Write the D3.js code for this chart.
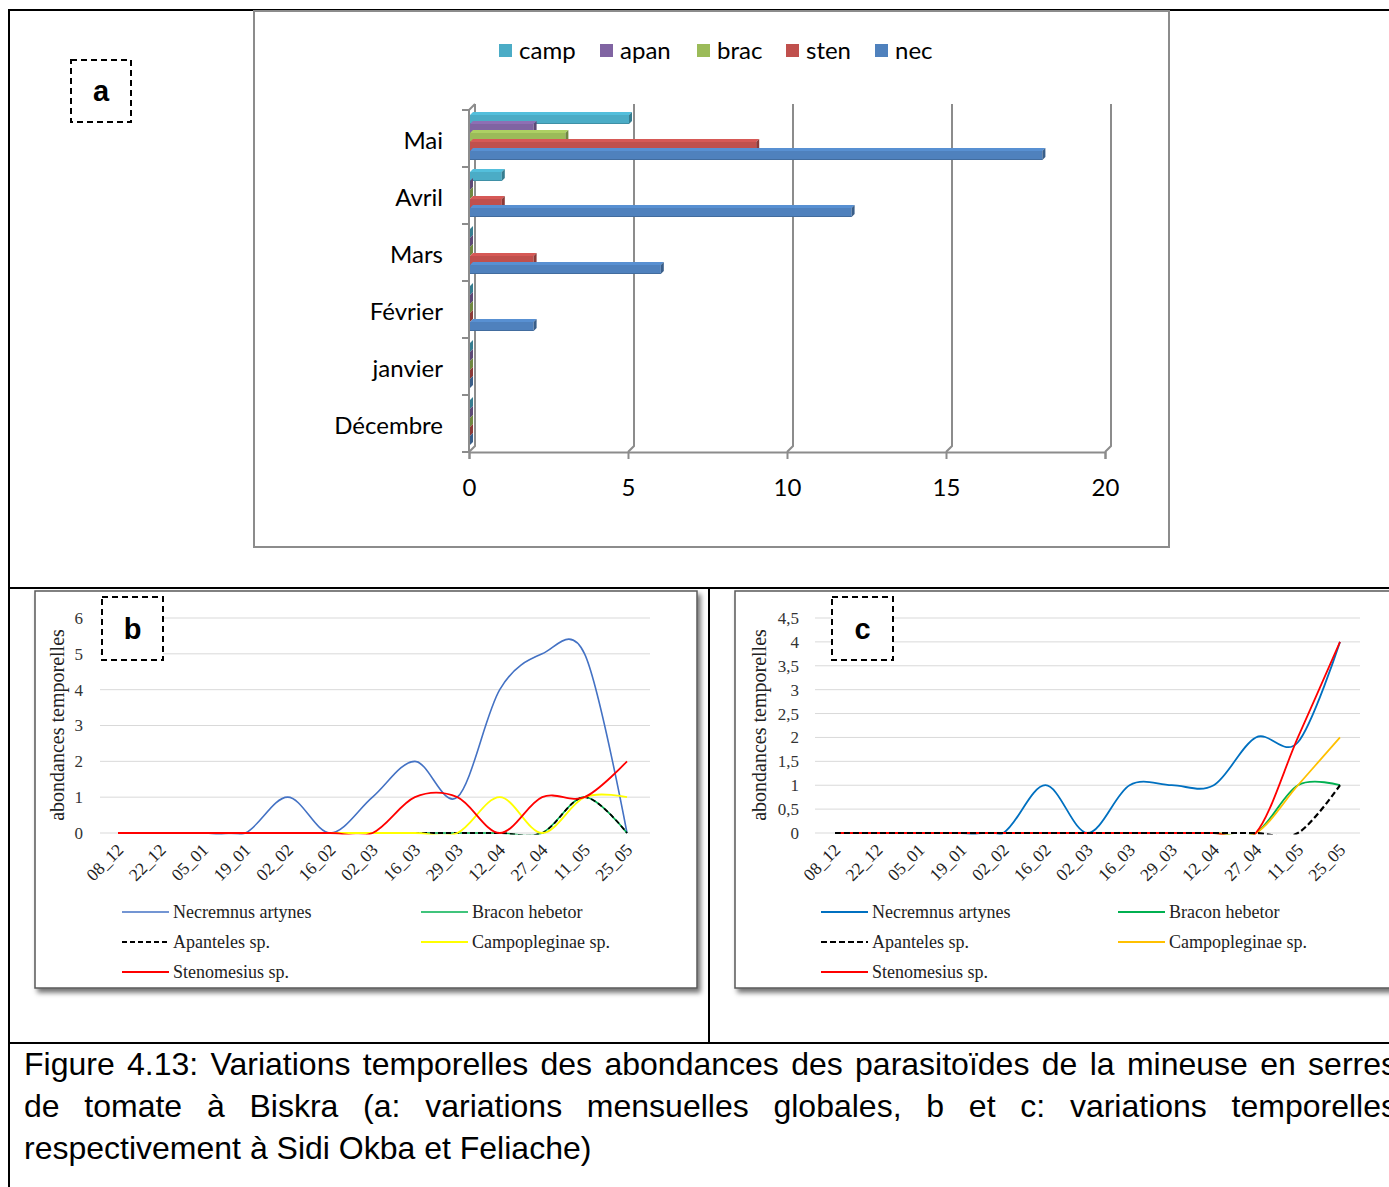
<!DOCTYPE html>
<html><head><meta charset="utf-8">
<script src="https://cdn.jsdelivr.net/npm/d3@7"></script>
<style>
html,body{margin:0;padding:0;background:#fff;overflow:hidden;}
svg{display:block;}
</style></head>
<body>
<script>
// ---------- Panel a data ----------
const months = ["Mai","Avril","Mars","Février","janvier","Décembre"];
const seriesA = ["camp","apan","brac","sten","nec"];
const colorsA = ["#4BACC6","#8064A2","#9BBB59","#C0504D","#4F81BD"];
const camp = [5,1,0,0,0,0];
const apan = [2,0,0,0,0,0];
const brac = [3,0,0,0,0,0];
const sten = [9,1,2,0,0,0];
const nec  = [18,12,6,2,0,0];
const xTicksA = [0,5,10,15,20];

// ---------- Panels b and c data ----------
const dates = ["08_12","22_12","05_01","19_01","02_02","16_02","02_03","16_03","29_03","12_04","27_04","11_05","25_05"];
const speciesNames = ["Necremnus artynes","Bracon hebetor","Apanteles sp.","Campopleginae sp.","Stenomesius sp."];
// b : Sidi Okba
const necB = [0,0,0,0,1,0,1,2,1,4,5,5,0];
const braB = [0,0,0,0,0,0,0,0,0,0,0,1,0];
const apaB = [0,0,0,0,0,0,0,0,0,0,0,1,0];
const camB = [0,0,0,0,0,0,0,0,0,1,0,1,1];
const steB = [0,0,0,0,0,0,0,1,1,0,1,1,2];
const yTicksB = [0,1,2,3,4,5,6];
// c : Feliache
const necC = [0,0,0,0,0,1,0,1,1,1,2,1.9,4];
const braC = [0,0,0,0,0,0,0,0,0,0,0,1,1];
const apaC = [0,0,0,0,0,0,0,0,0,0,0,0,1];
const camC = [0,0,0,0,0,0,0,0,0,0,0,1,2];
const steC = [0,0,0,0,0,0,0,0,0,0,0,2,4];
const yTicksC = [0,0.5,1,1.5,2,2.5,3,3.5,4,4.5];

const captionLines = [
  "Figure 4.13: Variations temporelles des abondances des parasitoïdes de la mineuse en serres",
  "de tomate à Biskra (a: variations mensuelles globales, b et c: variations temporelles",
  "respectivement à Sidi Okba et Feliache)"
];

const W = 1389, H = 1187;
const svg = d3.select("body").append("svg").attr("width", W).attr("height", H);
svg.append("rect").attr("width", W).attr("height", H).attr("fill", "#fff");

const defs = svg.append("defs");
const f = defs.append("filter").attr("id","shadow").attr("x","-5%").attr("y","-5%").attr("width","115%").attr("height","115%");
f.append("feDropShadow").attr("dx",3).attr("dy",4).attr("stdDeviation",2.5).attr("flood-color","#000").attr("flood-opacity",0.55);

// ---------- outer table ----------
const tbl = svg.append("g").attr("stroke","#000").attr("stroke-width",2);
tbl.append("line").attr("x1",9).attr("x2",W).attr("y1",10).attr("y2",10);
tbl.append("line").attr("x1",9).attr("x2",9).attr("y1",9).attr("y2",H);
tbl.append("line").attr("x1",9).attr("x2",W).attr("y1",588).attr("y2",588);
tbl.append("line").attr("x1",709).attr("x2",709).attr("y1",588).attr("y2",1043);
tbl.append("line").attr("x1",9).attr("x2",W).attr("y1",1043).attr("y2",1043);

function labelBox(x, y, w, h, txt){
  svg.append("rect").attr("x",x).attr("y",y).attr("width",w).attr("height",h)
    .attr("fill","#fff").attr("stroke","#000").attr("stroke-width",2).attr("stroke-dasharray","6,4");
  svg.append("text").attr("x",x+w/2).attr("y",y+h/2+10).attr("text-anchor","middle")
    .attr("font-family","Liberation Sans, Arial, sans-serif").attr("font-weight","bold")
    .attr("font-size",29).text(txt);
}

// ---------- Panel a ----------
labelBox(71, 60, 60, 62, "a");
svg.append("rect").attr("x",254).attr("y",11).attr("width",915).attr("height",536)
  .attr("fill","#fff").attr("stroke","#8c8c8c").attr("stroke-width",2);

const ga = svg.append("g");
const fontA = "Lato, 'Open Sans', sans-serif";
const xA = d3.scaleLinear().domain([0,20]).range([469,1105]);
const yA = d3.scaleBand().domain(months).range([110,452]);
const inner = d3.scaleBand().domain(seriesA).range([5,50]);
const depth = 6, bd = 3;
const valsA = {camp, apan, brac, sten, nec};

const wallTop = yA.range()[0] - depth;
xTicksA.forEach(t => {
  const xb = xA(t);
  ga.append("path")
    .attr("d", `M${xb},${452} L${xb+depth},${452-depth} L${xb+depth},${wallTop}`)
    .attr("fill","none").attr("stroke","#8c8c8c").attr("stroke-width",2);
});
ga.append("line").attr("x1",xA(0)).attr("x2",xA(0)).attr("y1",yA.range()[0]).attr("y2",452)
  .attr("stroke","#8c8c8c").attr("stroke-width",2);
ga.append("line").attr("x1",xA(0)).attr("x2",xA(0)+depth).attr("y1",yA.range()[0]).attr("y2",wallTop)
  .attr("stroke","#8c8c8c").attr("stroke-width",2);
const bandEdges = months.map(m => yA(m)).concat([452]);
bandEdges.forEach(yy => {
  ga.append("line").attr("x1",xA(0)-7).attr("x2",xA(0)).attr("y1",yy).attr("y2",yy)
    .attr("stroke","#8c8c8c").attr("stroke-width",2);
});
const axA = ga.append("g").attr("transform","translate(0,452)")
  .call(d3.axisBottom(xA).tickValues(xTicksA).tickSize(7).tickPadding(20).tickFormat(d3.format("d")));
axA.select(".domain").attr("stroke","#8c8c8c").attr("stroke-width",2);
axA.selectAll(".tick line").attr("stroke","#8c8c8c").attr("stroke-width",2);
axA.selectAll(".tick text").attr("font-family",fontA).attr("font-size",24).attr("fill","#000");

months.forEach((m, i) => {
  seriesA.forEach((s, j) => {
    const v = valsA[s][i];
    const y0 = yA(m) + inner(s);
    const h = inner.bandwidth();
    const x0 = xA(0) + 1, x1 = xA(v) + 1;
    const c = d3.color(colorsA[j]);
    ga.append("path").attr("d",`M${x0},${y0} L${x0+bd},${y0-bd} L${x1+bd},${y0-bd} L${x1},${y0} Z`)
      .attr("fill", c.brighter(0.3));
    if (v > 0) ga.append("rect").attr("x",x0).attr("y",y0).attr("width",x1-x0).attr("height",h)
      .attr("fill", colorsA[j]);
    ga.append("path").attr("d",`M${x1},${y0} L${x1+bd},${y0-bd} L${x1+bd},${y0+h-bd} L${x1},${y0+h} Z`)
      .attr("fill", c.darker(0.9));
    if (v > 0) ga.append("line").attr("x1",x0).attr("x2",x1).attr("y1",y0+h-0.5).attr("y2",y0+h-0.5)
      .attr("stroke", c.darker(0.5)).attr("stroke-width",1);
  });
});
months.forEach(m => {
  ga.append("text").attr("x",443).attr("y",yA(m)+yA.bandwidth()/2+10).attr("text-anchor","end")
    .attr("font-family",fontA).attr("font-size",24).text(m);
});
const legA = [499,600,697,786,875];
seriesA.forEach((s,j) => {
  ga.append("rect").attr("x",legA[j]).attr("y",44).attr("width",13).attr("height",13).attr("fill",colorsA[j]);
  ga.append("text").attr("x",legA[j]+20).attr("y",59).attr("font-family",fontA)
    .attr("font-size",24).text(s);
});

// ---------- line panels ----------
const serif = "Liberation Serif, 'Times New Roman', serif";
function linePanel(opt){
  const g = svg.append("g");
  g.append("rect").attr("x",opt.box[0]).attr("y",opt.box[1]).attr("width",opt.box[2]).attr("height",opt.box[3])
    .attr("fill","#fff").attr("stroke","#595959").attr("stroke-width",1.5).attr("filter","url(#shadow)");
  const x = d3.scalePoint().domain(dates).range(opt.xr);
  const y = d3.scaleLinear().domain([0, opt.ymax]).range([833, 618]);
  g.selectAll(".grid").data(opt.yticks).join("line")
    .attr("x1",opt.gx[0]).attr("x2",opt.gx[1]).attr("y1",d=>y(d)).attr("y2",d=>y(d))
    .attr("stroke","#d9d9d9").attr("stroke-width",1);
  const ay = g.append("g").attr("transform",`translate(${opt.yLabelX},0)`)
    .call(d3.axisLeft(y).tickValues(opt.yticks).tickSize(0).tickPadding(0).tickFormat(opt.fmt));
  ay.select(".domain").remove();
  ay.selectAll("text").attr("font-family",serif).attr("font-size",17).attr("fill","#333");
  g.append("text").attr("transform",`translate(${opt.titleX},725) rotate(-90)`).attr("text-anchor","middle")
    .attr("font-family",serif).attr("font-size",20).attr("fill","#222")
    .text("abondances temporelles");
  const ax = g.append("g").attr("transform","translate(0,833)")
    .call(d3.axisBottom(x).tickSize(0).tickPadding(0));
  ax.select(".domain").remove();
  ax.selectAll(".tick text").attr("font-family",serif).attr("font-size",17.5)
    .attr("fill","#222").attr("text-anchor","end").attr("dy",0)
    .attr("transform","translate(6,18) rotate(-45)");
  // clip so smoothing does not dip below the zero line
  const cid = "clip" + opt.id;
  defs.append("clipPath").attr("id",cid).append("rect")
    .attr("x",opt.gx[0]).attr("y",600).attr("width",opt.gx[1]-opt.gx[0]).attr("height",y(0)+1.5-600);
  const lg = g.append("g").attr("clip-path",`url(#${cid})`);
  const line = d3.line().x((d,i)=>x(dates[i])).y(d=>y(d)).curve(d3.curveCardinal.tension(0));
  opt.order.forEach(k => {
    const s = opt.series[k];
    lg.append("path").datum(s.values).attr("d",line).attr("fill","none")
      .attr("stroke",s.color).attr("stroke-width",s.w || 1.6)
      .attr("stroke-dasharray", s.dash || null);
  });
  const leg = [
    {k:0, x:opt.leg[0], y:912},{k:1, x:opt.leg[1], y:912},
    {k:2, x:opt.leg[0], y:942},{k:3, x:opt.leg[1], y:942},
    {k:4, x:opt.leg[0], y:972}
  ];
  leg.forEach(l => {
    const s = opt.series[l.k];
    g.append("line").attr("x1",l.x).attr("x2",l.x+47).attr("y1",l.y).attr("y2",l.y)
      .attr("stroke",s.color).attr("stroke-width",s.w||1.6).attr("stroke-dasharray",s.dash||null);
    g.append("text").attr("x",l.x+51).attr("y",l.y+6).attr("font-family",serif)
      .attr("font-size",18).attr("fill","#222").text(speciesNames[l.k]);
  });
}

linePanel({
  id:"b", box:[35,591,662,397], xr:[118,627], gx:[100,650], ymax:6, yticks:yTicksB, fmt:d3.format("d"),
  yLabelX:83, titleX:64, leg:[122,421],
  series:[
    {values:necB, color:"#4472C4"},
    {values:braB, color:"#00B050"},
    {values:apaB, color:"#000", dash:"5,3", w:1.8},
    {values:camB, color:"#FFFF00", w:1.8},
    {values:steB, color:"#FF0000", w:1.8}
  ],
  order:[0,1,2,3,4]
});
labelBox(102, 597, 61, 63, "b");

linePanel({
  id:"c", box:[735,591,680,397], xr:[835,1340], gx:[815,1360], ymax:4.5, yticks:yTicksC,
  fmt:d => String(d).replace(".",","),
  yLabelX:799, titleX:766, leg:[821,1118],
  series:[
    {values:necC, color:"#0070C0", w:1.8},
    {values:braC, color:"#00B050", w:1.8},
    {values:apaC, color:"#000", dash:"6,3", w:2.2},
    {values:camC, color:"#FFC000", w:1.8},
    {values:steC, color:"#FF0000", w:1.8}
  ],
  order:[0,1,3,4,2]
});
labelBox(832, 597, 61, 63, "c");

// ---------- caption ----------
const capY = [1075, 1117, 1159];
captionLines.forEach((t, i) => {
  const tx = svg.append("text").attr("x",24).attr("y",capY[i])
    .attr("font-family","Liberation Sans, Arial, sans-serif").attr("font-size",32).attr("fill","#000")
    .attr("xml:space","preserve").text(t);
  if (i < 2) {
    const target = 1397 - 24;
    const wNat = tx.node().getComputedTextLength();
    const spaces = (t.match(/ /g) || []).length;
    tx.attr("word-spacing", (target - wNat) / spaces);
  }
});
</script>
</body></html>
